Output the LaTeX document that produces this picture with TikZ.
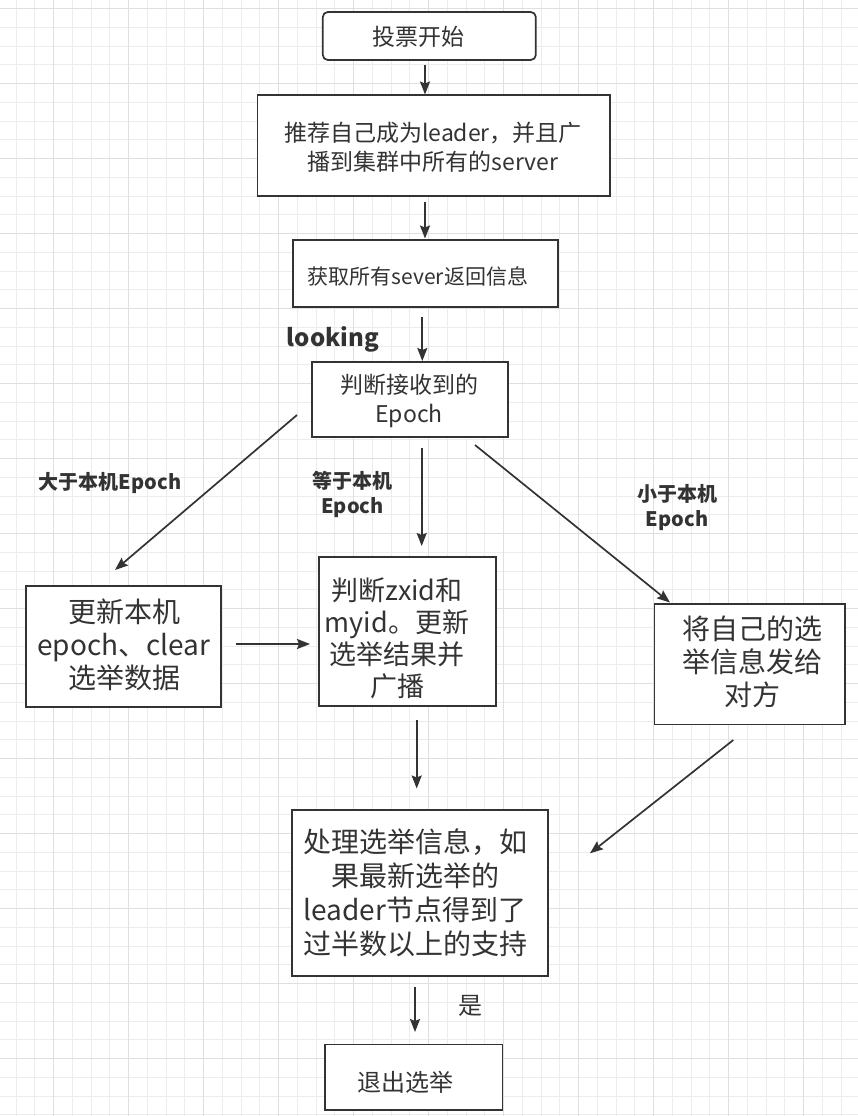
\documentclass[tikz,border=0pt]{standalone}
\usepackage{fontspec}
\setmainfont{Noto Sans CJK SC}
\usetikzlibrary{arrows.meta}
\definecolor{ink}{HTML}{333333}
\definecolor{gridminor}{HTML}{ECECEC}
\definecolor{gridmajor}{HTML}{DFDFDF}
\begin{document}
\begin{tikzpicture}[x=1pt,y=-1pt,
  box/.style={draw=ink, line width=1.7pt, fill=white, inner sep=0pt},
  txt/.style={text=ink, align=center, inner sep=0pt},
  lab/.style={text=ink, align=center, inner sep=0pt},
  arr/.style={draw=ink, line width=1.7pt, -{Stealth[length=13pt,width=10pt,inset=2pt]}}]
\useasboundingbox (0,0) rectangle (858,1116);
\fill[white] (0,0) rectangle (858,1116);
% grid
\foreach \i in {0,...,46} {\draw[gridminor, line width=0.9pt] ({-2.75+18.75*\i},0) -- ++(0,1116);}
\foreach \i in {0,...,60} {\draw[gridminor, line width=0.9pt] (0,{-10.25+18.75*\i}) -- ++(858,0);}
\foreach \i in {0,...,10} {\draw[gridmajor, line width=1pt] ({53.5+75*\i},0) -- ++(0,1116);}
\foreach \i in {0,...,14} {\draw[gridmajor, line width=1pt] (0,{8.5+75*\i}) -- ++(858,0);}

% boxes
\node[box, rounded corners=5pt, minimum width=213pt, minimum height=48pt] (b1) at (429.3,36) {};
\node[box, minimum width=352.7pt, minimum height=100.7pt] (b2) at (433.7,145.3) {};
\node[box, minimum width=265pt, minimum height=66.7pt] (b3) at (425.8,273.3) {};
\node[box, minimum width=196.3pt, minimum height=75pt] (b4) at (410,399.3) {};
\node[box, minimum width=195pt, minimum height=121pt] (b5) at (123.5,646.2) {};
\node[box, minimum width=176.4pt, minimum height=148.4pt] (b6) at (407.5,631.5) {};
\node[box, minimum width=190.7pt, minimum height=120.3pt] (b7) at (749.7,664.2) {};
\node[box, minimum width=256pt, minimum height=166pt] (b8) at (419.7,893) {};
\node[box, minimum width=177.3pt, minimum height=65.7pt] (b9) at (413.7,1077.2) {};

% box texts
\node[txt, font=\fontsize{23}{28}\selectfont] (t1) at (418.5,37) {投票开始};
\node[txt, font=\fontsize{23}{28.7}\selectfont] (t2) at (433,147.5) {推荐自己成为leader，并且广\\播到集群中所有的server};
\node[txt, font=\fontsize{21}{26}\selectfont] (t3) at (418,276) {获取所有sever返回信息};
\node[txt, font=\fontsize{23}{28.3}\selectfont] (t4) at (409,401) {判断接收到的\\Epoch};
\node[txt, font=\fontsize{28}{33.3}\selectfont] (t5) at (124,645) {更新本机\\epoch、clear\\选举数据};
\node[txt, font=\fontsize{27}{32}\selectfont] (t6) at (397,638) {判断zxid和\\myid。更新\\选举结果并\\广播};
\node[txt, font=\fontsize{28}{33.3}\selectfont] (t7) at (752.5,661.7) {将自己的选\\举信息发给\\对方};
\node[txt, font=\fontsize{28}{34}\selectfont] (t8) at (415,892.5) {处理选举信息，如\\果最新选举的\\leader节点得到了\\过半数以上的支持};
\node[txt, font=\fontsize{24}{28}\selectfont] (t9) at (405.8,1082) {退出选举};

% labels
\node[lab, font=\bfseries\fontsize{24}{28}\selectfont] (l0) at (333,339) {looking};
\node[lab, font=\bfseries\fontsize{20}{24}\selectfont] (l1) at (110,483) {大于本机Epoch};
\node[lab, font=\bfseries\fontsize{20}{25}\selectfont] (l2) at (352.5,494) {等于本机\\Epoch};
\node[lab, font=\bfseries\fontsize{20}{25}\selectfont] (l3) at (677,507.5) {小于本机\\Epoch};
\node[lab, font=\fontsize{24}{28}\selectfont] (l4) at (470,1006) {是};

% connector end points
\coordinate (a1s) at (425,65);    \coordinate (a1e) at (425,94.5);
\coordinate (a2s) at (425,201.5); \coordinate (a2e) at (425,238.5);
\coordinate (a3s) at (422.3,317); \coordinate (a3e) at (422.3,361);
\coordinate (a4s) at (297,415);   \coordinate (a4e) at (115,570);
\coordinate (a5s) at (421.7,448); \coordinate (a5e) at (421.7,546);
\coordinate (a6s) at (475,445);   \coordinate (a6e) at (670,602.5);
\coordinate (a7s) at (236,644);   \coordinate (a7e) at (310,644);
\coordinate (a8s) at (416.7,720); \coordinate (a8e) at (416.7,788.5);
\coordinate (a9s) at (733.3,740); \coordinate (a9e) at (590,853.3);
\coordinate (a10s) at (415,987);  \coordinate (a10e) at (415,1032);

\draw[arr] (a1s) -- (a1e);
\draw[arr] (a2s) -- (a2e);
\draw[arr] (a3s) -- (a3e);
\draw[arr] (a4s) -- (a4e);
\draw[arr] (a5s) -- (a5e);
\draw[arr] (a6s) -- (a6e);
\draw[arr] (a7s) -- (a7e);
\draw[arr] (a8s) -- (a8e);
\draw[arr] (a9s) -- (a9e);
\draw[arr] (a10s) -- (a10e);
\end{tikzpicture}
\end{document}
